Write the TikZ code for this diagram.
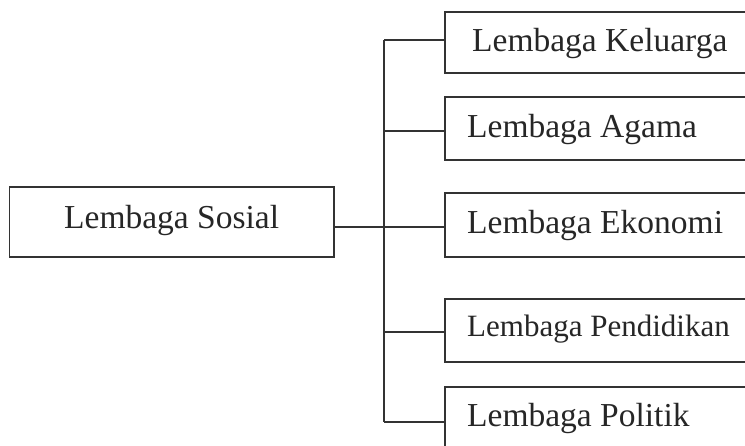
\documentclass[tikz,border=0pt]{standalone}
\usepackage{fontspec}
\setmainfont{Liberation Serif}
\begin{document}
\begin{tikzpicture}[x=1pt,y=-1pt,
  boxline/.style={draw=black!80,line width=1.5pt},
  conn/.style={draw=black!80,line width=1.5pt},
  lbl/.style={anchor=base west,inner sep=0pt,text=black!85,font=\fontsize{33.5}{38}\selectfont}]
\useasboundingbox (0,0) rectangle (745,446);
\clip (0,0) rectangle (745,446);
% boxes
\draw[boxline] (9.5,187) rectangle (334,257);
\node[lbl] (sos) at (64,229) {Lembaga Sosial};
\coordinate (sosR) at (334,227);
\draw[boxline] (445,12) rectangle (760,73);
\draw[boxline] (445,97) rectangle (760,160);
\draw[boxline] (445,193) rectangle (760,257);
\draw[boxline] (445,299) rectangle (760,362);
\draw[boxline] (445,387) rectangle (760,460);
\node[lbl] (kel) at (472,52) {Lembaga Keluarga};
\node[lbl] (aga) at (467,138) {Lembaga Agama};
\node[lbl] (eko) at (467,234) {Lembaga Ekonomi};
\node[lbl,font=\fontsize{31}{35}\selectfont] (pen) at (467,337) {Lembaga Pendidikan};
\node[lbl] (pol) at (467,427) {Lembaga Politik};
% connectors
\coordinate (t1) at (384,40);
\coordinate (t2) at (384,131);
\coordinate (t3) at (384,227);
\coordinate (t4) at (384,332);
\coordinate (t5) at (384,422);
\coordinate (b1) at (445,40);
\coordinate (b2) at (445,131);
\coordinate (b3) at (445,227);
\coordinate (b4) at (445,332);
\coordinate (b5) at (445,422);
\draw[conn] (sosR) -- (b3);
\draw[conn] (t1) -- (t5);
\draw[conn] (t1) -- (b1);
\draw[conn] (t2) -- (b2);
\draw[conn] (t4) -- (b4);
\draw[conn] (t5) -- (b5);
\end{tikzpicture}
\end{document}
